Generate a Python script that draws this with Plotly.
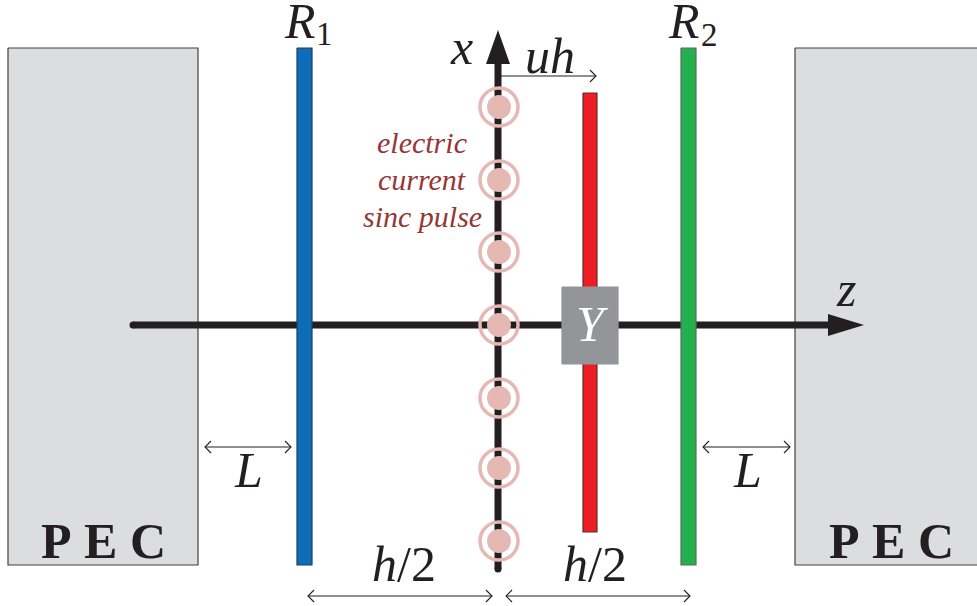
import plotly.graph_objects as go

W, H = 977, 606
BLACK = "#231f20"
PINK = "#e6b8b3"
SERIF = "Liberation Serif"

# Blocks: name, x0, x1, y0, y1, fill, outline
block_names = ["PEC left", "PEC right", "R1", "R2", "sheet", "Y"]
block_x0 = [8, 795, 297, 681, 583, 562]
block_x1 = [198, 980, 312, 696, 597, 618]
block_y0 = [48, 48, 48, 48, 93, 287]
block_y1 = [565, 565, 565, 565, 532, 364]
block_fill = ["#dcddde", "#dcddde", "#0f6cb6", "#22b14c", "#ee1c25", "#939598"]
block_edge = ["#404040", "#404040", "#1c3f5e", "#5a6a60", "#5a3030", "#939598"]

# Thick axes
z_axis_x = [133, 832]
z_axis_y = [325, 325]
z_head_x = [828, 864, 828, 828]
z_head_y = [314, 325, 336, 314]
x_axis_x = [498, 498]
x_axis_y = [569, 60]
x_head_x = [486, 498, 510, 486]
x_head_y = [64, 30, 64, 64]

# Sheet of current sources
src_x = [499, 499, 499, 499, 499, 499, 499]
src_y = [107, 180, 252, 325, 398, 468, 541]

# Thin dimension arrows: x0, x1, y, both ends?
dim_x0 = [205, 703, 308, 506, 498]
dim_x1 = [291, 790, 492, 690, 596]
dim_y = [447, 447, 596, 596, 76]
dim_both = [True, True, True, True, False]

# Labels
label_text = ["<i>R</i>", "1", "<i>R</i>", "2", "<i>x</i>", "<i>uh</i>", "<i>z</i>", "<i>Y</i>",
              "<i>L</i>", "<i>L</i>", "<i>h</i>/2", "<i>h</i>/2",
              "<b>P</b>", "<b>E</b>", "<b>C</b>", "<b>P</b>", "<b>E</b>", "<b>C</b>",
              "<i>electric</i>", "<i>current</i>", "<i>sinc pulse</i>"]
label_x = [300, 324, 684, 709, 461, 550, 846, 592, 248, 747, 404, 595,
           56, 100, 148, 844, 888, 936, 422, 422, 422]
label_y = [21, 34, 21, 35, 47, 56, 289, 324, 470, 470, 564, 564,
           541, 541, 541, 541, 541, 541, 142, 179, 216]
label_size = [50, 33, 50, 33, 50, 50, 50, 50, 50, 50, 50, 50,
              50, 50, 50, 50, 50, 50, 30, 30, 30]
label_color = [BLACK, BLACK, BLACK, BLACK, BLACK, BLACK, BLACK, "white",
               BLACK, BLACK, BLACK, BLACK,
               BLACK, BLACK, BLACK, BLACK, BLACK, BLACK,
               "#953735", "#953735", "#953735"]

fig = go.Figure()


def block(i):
    xs = [block_x0[i], block_x1[i], block_x1[i], block_x0[i], block_x0[i]]
    ys = [block_y0[i], block_y0[i], block_y1[i], block_y1[i], block_y0[i]]
    fig.add_trace(go.Scatter(x=xs, y=ys, mode="lines", fill="toself", fillcolor=block_fill[i],
                             line=dict(color=block_edge[i], width=1.2), name=block_names[i]))


# PEC blocks and the red sheet sit beneath the axes
for i in [0, 1, 4]:
    block(i)

fig.add_trace(go.Scatter(x=z_axis_x, y=z_axis_y, mode="lines", line=dict(color=BLACK, width=7)))
fig.add_trace(go.Scatter(x=z_axis_x[:1], y=z_axis_y[:1], mode="markers",
                         marker=dict(color=BLACK, size=7)))
fig.add_trace(go.Scatter(x=z_head_x, y=z_head_y, mode="lines", fill="toself", fillcolor=BLACK,
                         line=dict(color=BLACK, width=0)))
fig.add_trace(go.Scatter(x=x_axis_x, y=x_axis_y, mode="lines", line=dict(color=BLACK, width=7)))
fig.add_trace(go.Scatter(x=x_axis_x[:1], y=x_axis_y[:1], mode="markers",
                         marker=dict(color=BLACK, size=7)))
fig.add_trace(go.Scatter(x=x_head_x, y=x_head_y, mode="lines", fill="toself", fillcolor=BLACK,
                         line=dict(color=BLACK, width=0)))

# R1, R2 and the Y box sit above the axes
for i in [2, 3, 5]:
    block(i)

# Current sources: outer ring and inner disc
fig.add_trace(go.Scatter(x=src_x, y=src_y, mode="markers",
                         marker=dict(size=38, color="rgba(0,0,0,0)", line=dict(color=PINK, width=3.5))))
fig.add_trace(go.Scatter(x=src_x, y=src_y, mode="markers",
                         marker=dict(size=24, color=PINK, line=dict(width=0))))

# Dimension arrows
HEAD = 6
for x0, x1, y, both in zip(dim_x0, dim_x1, dim_y, dim_both):
    xs = [x0, x1, None, x1 - HEAD, x1, x1 - HEAD]
    ys = [y, y, None, y - HEAD, y, y + HEAD]
    if both:
        xs += [None, x0 + HEAD, x0, x0 + HEAD]
        ys += [None, y - HEAD, y, y + HEAD]
    fig.add_trace(go.Scatter(x=xs, y=ys, mode="lines", line=dict(color=BLACK, width=1.1)))

for t, x, y, s, c in zip(label_text, label_x, label_y, label_size, label_color):
    fig.add_annotation(x=x, y=y, text=t, showarrow=False, xanchor="center", yanchor="middle",
                       font=dict(family=SERIF, size=s, color=c))

fig.update_layout(
    width=W, height=H, autosize=False, showlegend=False,
    margin=dict(l=0, r=0, t=0, b=0, pad=0),
    paper_bgcolor="white", plot_bgcolor="white",
    xaxis=dict(range=[0, W], visible=False, fixedrange=True),
    yaxis=dict(range=[H, 0], visible=False, fixedrange=True),
)
fig.write_html("out.html", config={"displayModeBar": False},
               default_width=f"{W}px", default_height=f"{H}px",
               post_script="document.body.style.margin='0';document.body.style.overflow='hidden';")
